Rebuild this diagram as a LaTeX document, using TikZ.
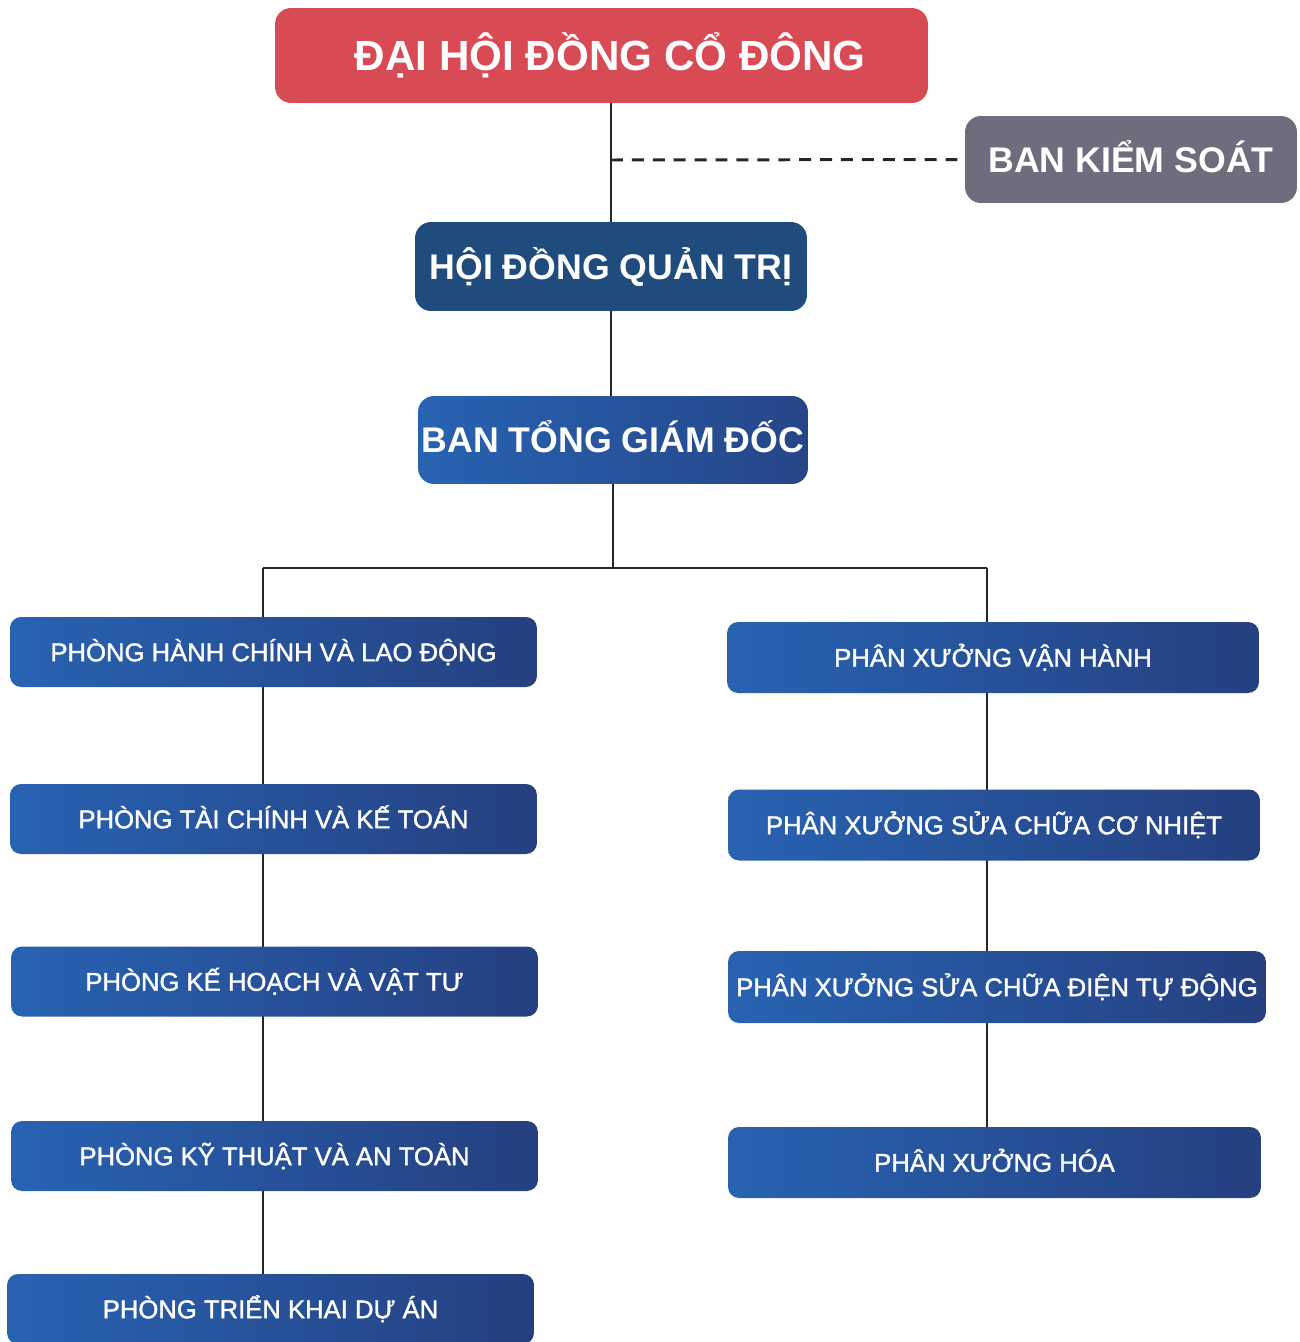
\documentclass[tikz,border=0pt]{standalone}
\usepackage{fontspec}
\setmainfont{Liberation Sans}
\newfontfamily\unitfont[FakeBold=1.4]{Liberation Sans}
\usetikzlibrary{backgrounds}

\definecolor{shred}{RGB}{216,74,84}
\definecolor{ctrlgray}{RGB}{112,108,126}
\definecolor{boardblue}{RGB}{31,76,124}
\definecolor{unitleft}{RGB}{40,99,178}
\definecolor{unitright}{RGB}{37,64,128}

\begin{document}
\begin{tikzpicture}[x=0.02cm, y=-0.02cm,
		headbox/.style={rounded corners=0.32cm, inner sep=0pt, text=white, font=\bfseries\fontsize{20.3}{24}\selectfont, text height=14.6pt, text depth=0pt},
		unitbox/.style={rounded corners=0.22cm, inner sep=0pt, left color=unitleft, right color=unitright, text=white, font=\unitfont\fontsize{14.6}{17}\selectfont, text height=10.5pt, text depth=0pt, minimum width=10.54cm, minimum height=1.4cm},
		link/.style={line width=1.5pt, black!85}]
		\useasboundingbox (0,0) rectangle (1300,1342);
		
		\node [headbox, fill=shred, minimum width=13.06cm, minimum height=1.9cm, font=\bfseries\fontsize{24}{28}\selectfont, text height=17.2pt] (dhcd) at (601.5,55.5) {\hspace*{0.35cm}ĐẠI HỘI ĐỒNG CỔ ĐÔNG};
		\node [headbox, fill=ctrlgray, minimum width=6.64cm, minimum height=1.74cm] (bks) at (1131,159.5) {BAN KIỂM SOÁT};
		\node [headbox, fill=boardblue, minimum width=7.84cm, minimum height=1.78cm] (hdqt) at (611,266.5) {HỘI ĐỒNG QUẢN TRỊ};
		\node [headbox, left color=unitleft, right color=unitright!85!unitleft, minimum width=7.8cm, minimum height=1.76cm] (btgd) at (613,440) {BAN TỔNG GIÁM ĐỐC};
		
		\node [unitbox] (p1) at (273.5,652) {PHÒNG HÀNH CHÍNH VÀ LAO ĐỘNG};
		\node [unitbox] (p2) at (273.5,819) {PHÒNG TÀI CHÍNH VÀ KẾ TOÁN};
		\node [unitbox] (p3) at (274.5,981.5) {PHÒNG KẾ HOẠCH VÀ VẬT TƯ};
		\node [unitbox] (p4) at (274.5,1156) {PHÒNG KỸ THUẬT VÀ AN TOÀN};
		\node [unitbox] (p5) at (270.5,1309) {PHÒNG TRIỂN KHAI DỰ ÁN};
		
		\node [unitbox, minimum width=10.64cm, minimum height=1.42cm] (x1) at (993,657.5) {PHÂN XƯỞNG VẬN HÀNH};
		\node [unitbox, minimum width=10.64cm, minimum height=1.42cm] (x2) at (994,825) {PHÂN XƯỞNG SỬA CHỮA CƠ NHIỆT};
		\node [unitbox, minimum width=10.76cm, minimum height=1.44cm] (x3) at (997,987) {PHÂN XƯỞNG SỬA CHỮA ĐIỆN TỰ ĐỘNG};
		\node [unitbox, minimum width=10.66cm, minimum height=1.42cm] (x4) at (994.5,1162.5) {PHÂN XƯỞNG HÓA};
		
		\coordinate (tap) at (611,160);
		\coordinate (lbus) at (263,568);
		\coordinate (rbus) at (987,568);
		
		\begin{scope}[on background layer]
		\draw [link] (hdqt.north |- dhcd.south) -- (hdqt.north);
		\draw [link, line width=1.7pt, dash pattern=on 6.8pt off 5.1pt] (tap) -- (bks.west);
		\draw [link] (hdqt.south) -- (hdqt.south |- btgd.north);
		\draw [link] (btgd.south) -- (btgd.south |- lbus);
		\draw [link] (lbus) -- (rbus);
		\draw [link] (lbus) -- (lbus |- p5.north);
		\draw [link] (rbus) -- (rbus |- x4.north);
		\end{scope}
		
		\end{tikzpicture}
\end{document}
